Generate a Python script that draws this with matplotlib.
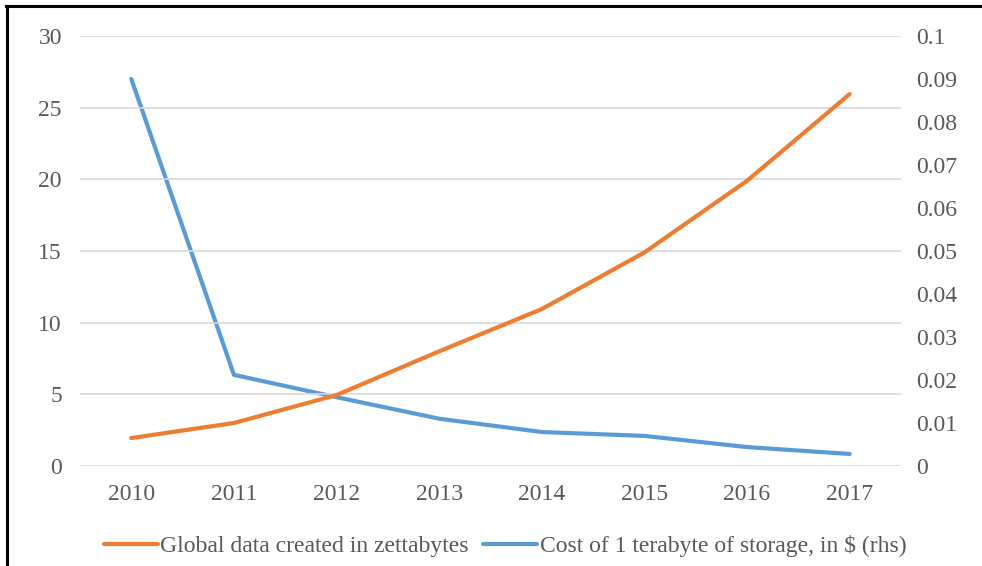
import matplotlib.pyplot as plt
from matplotlib.lines import Line2D

years = ['2010', '2011', '2012', '2013', '2014', '2015', '2016', '2017']
data_zb = [1.95, 3.0, 4.95, 8.0, 10.95, 14.9, 19.9, 25.95]
cost_tb = [0.09, 0.0212, 0.016, 0.011, 0.0079, 0.007, 0.0044, 0.0028]

orange = '#ED7D31'
blue = '#5B9BD5'
grey = '#595959'

plt.rcParams['font.family'] = ['Liberation Serif', 'DejaVu Serif']

fig = plt.figure(figsize=(9.82, 5.66), dpi=100)
ax = fig.add_axes([80 / 982, 1 - 466 / 566, 821 / 982, 430 / 566])
ax2 = ax.twinx()

x = range(len(years))
l1, = ax.plot(x, data_zb, color=orange, lw=3.0, solid_capstyle='round',
              solid_joinstyle='round', label='Global data created in zettabytes')
l2, = ax2.plot(x, cost_tb, color=blue, lw=3.0, solid_capstyle='round',
               solid_joinstyle='round', label='Cost of 1 terabyte of storage, in $ (rhs)')
ax.set_zorder(ax2.get_zorder() + 1)
ax.patch.set_visible(False)

ax.set_xlim(-0.5, len(years) - 0.5)
ax.set_ylim(0, 30)
ax2.set_ylim(0, 0.1)
ax.set_yticks(range(0, 31, 5))
ax2.set_yticks([i / 100 for i in range(11)])
ax2.set_yticklabels(['0'] + [f'{i / 100:g}' for i in range(1, 11)])
ax.set_xticks(list(x))
ax.set_xticklabels(years)

ax.grid(axis='y', color='#D9D9D9', lw=1.2)
ax.set_axisbelow(True)
for a in (ax, ax2):
    for s in a.spines.values():
        s.set_visible(False)
    a.tick_params(length=0, labelsize=17, colors=grey)
ax.tick_params(axis='y', pad=13)
ax.tick_params(axis='x', pad=13)
ax2.tick_params(axis='y', pad=11)

fig.legend(handles=[l1, l2], loc='center', bbox_to_anchor=(505 / 982, 1 - 546 / 566),
           ncol=2, frameon=False, fontsize=17, labelcolor=grey,
           handlelength=2.3, handletextpad=0.1, columnspacing=0.6)

# frame on the left and top edges
fig.add_artist(Line2D([7 / 982, 7 / 982], [0, 1 - 6 / 566], color='black', lw=2.2,
                      transform=fig.transFigure))
fig.add_artist(Line2D([6 / 982, 1], [1 - 6 / 566, 1 - 6 / 566], color='black', lw=2.2,
                      transform=fig.transFigure))

fig.savefig('out.png', dpi=100)
